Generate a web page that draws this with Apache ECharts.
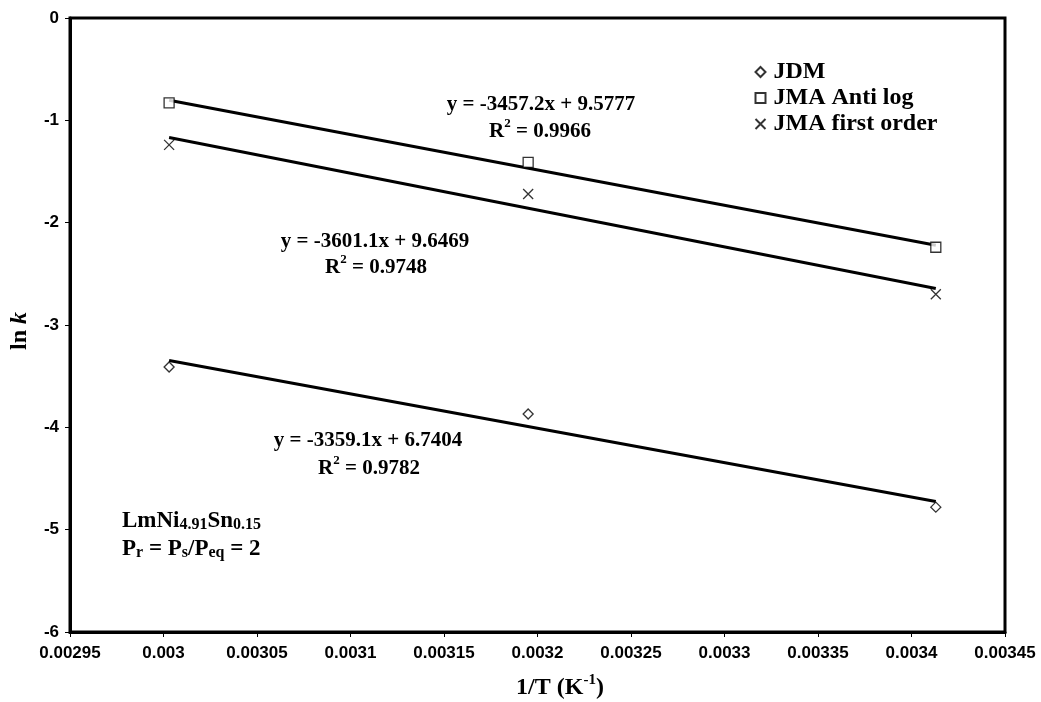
<!DOCTYPE html>
<html>
<head>
<meta charset="utf-8">
<script src="https://cdn.jsdelivr.net/npm/echarts@6/dist/echarts.min.js"></script>
<style>html,body{margin:0;padding:0;background:#fff}#c{width:1041px;height:702px}</style>
</head>
<body>
<div id="c"></div>
<script>
// 1/T values (K^-1) for T = 333, 313, 293 K
var invT = [0.003003, 0.003195, 0.003413];
var jdm = [-3.41, -3.87, -4.78];
var jmaAntiLog = [-0.83, -1.41, -2.24];
var jmaFirstOrder = [-1.24, -1.72, -2.70];
// trend line end values (at first and last 1/T)
var trendX = [0.003003, 0.003413];
var trendJdm = [-3.347, -4.724];
var trendAnti = [-0.804, -2.221];
var trendFirst = [-1.167, -2.644];
var xTicks = [0.00295, 0.003, 0.00305, 0.0031, 0.00315, 0.0032, 0.00325, 0.0033, 0.00335, 0.0034, 0.00345];
var yTicks = [-6, -5, -4, -3, -2, -1, 0];

function pts(xs, ys) { return xs.map(function (x, i) { return [x, ys[i]]; }); }

var crossPath = 'path://M0,0L10,10M10,0L0,10';
var serif = 'Liberation Serif';
var sans = 'Liberation Sans';
function rs(size, lh, va, extra) {
  var o = { fontFamily: serif, fontWeight: 'bold', fontSize: size, lineHeight: lh, verticalAlign: va, color: '#000' };
  for (var k in extra) o[k] = extra[k];
  return o;
}
var rich = {
  b: rs(21, 25, 'bottom'),
  sup: rs(13, 13, 'top'),
  y: rs(24, 26, 'bottom'),
  yi: rs(24, 26, 'bottom', { fontStyle: 'italic' }),
  t: rs(24, 27, 'bottom'),
  tsup: rs(15, 15, 'top'),
  c: rs(23, 30, 'bottom'),
  csub: rs(16, 16, 'bottom')
};
function label(x, y, text, align, rot) {
  return {
    type: 'text', x: x, y: y, rotation: rot || 0, z: 100,
    style: { text: text, rich: rich, align: align || 'center', verticalAlign: 'middle' }
  };
}

var hollow = { color: '#fff', borderColor: '#000', borderWidth: 1.3 };
var trendStyle = { color: '#000', width: 3 };

var chart = echarts.init(document.getElementById('c'));
chart.setOption({
  animation: false,
  backgroundColor: '#fff',
  grid: { left: 70, right: 36, top: 18, bottom: 70, show: true, borderColor: '#000', borderWidth: 3, backgroundColor: 'transparent' },
  xAxis: {
    type: 'value', min: xTicks[0], max: xTicks[xTicks.length - 1], interval: 0.00005,
    axisLine: { show: true, onZero: false, lineStyle: { color: '#000', width: 3 } },
    axisTick: { show: true, length: 5, lineStyle: { color: '#000', width: 1 } },
    splitLine: { show: false },
    axisLabel: {
      margin: 13, color: '#000', fontFamily: sans, fontWeight: 'bold', fontSize: 17,
      formatter: function (v) {
        var best = xTicks.reduce(function (a, b) { return Math.abs(b - v) < Math.abs(a - v) ? b : a; });
        return String(best);
      }
    }
  },
  yAxis: {
    type: 'value', min: yTicks[0], max: yTicks[yTicks.length - 1], interval: 1,
    axisLine: { show: true, onZero: false, lineStyle: { color: '#000', width: 3 } },
    axisTick: { show: true, length: 5, lineStyle: { color: '#000', width: 1 } },
    splitLine: { show: false },
    axisLabel: { margin: 11, color: '#000', fontFamily: sans, fontWeight: 'bold', fontSize: 17 }
  },
  legend: {
    orient: 'vertical', left: 748, top: 55, itemGap: 2, itemWidth: 10, itemHeight: 10,
    textStyle: { color: '#000', fontFamily: serif, fontWeight: 'bold', fontSize: 24, lineHeight: 24, padding: [0, 0, 0, 3] },
    data: [
      { name: 'JDM', icon: 'diamond' },
      { name: 'JMA Anti log', icon: 'rect' },
      { name: 'JMA first order', icon: crossPath }
    ]
  },
  series: [
    { name: 'JDM', type: 'scatter', symbol: 'diamond', symbolSize: 10, itemStyle: hollow, data: pts(invT, jdm), z: 5 },
    { name: 'JMA Anti log', type: 'scatter', symbol: 'rect', symbolSize: 10, itemStyle: hollow, data: pts(invT, jmaAntiLog), z: 5 },
    { name: 'JMA first order', type: 'scatter', symbol: crossPath, symbolSize: 10, itemStyle: { color: 'none', borderColor: '#000', borderWidth: 1.3 }, data: pts(invT, jmaFirstOrder), z: 5 },
    { name: 'trendJdm', type: 'line', showSymbol: false, symbol: 'none', lineStyle: trendStyle, data: pts(trendX, trendJdm), z: 3 },
    { name: 'trendAnti', type: 'line', showSymbol: false, symbol: 'none', lineStyle: trendStyle, data: pts(trendX, trendAnti), z: 3 },
    { name: 'trendFirst', type: 'line', showSymbol: false, symbol: 'none', lineStyle: trendStyle, data: pts(trendX, trendFirst), z: 3 }
  ],
  graphic: [
    label(541, 103, '{b|y = -3457.2x + 9.5777}'),
    label(540, 130, '{b|R}{sup|2}{b| = 0.9966}'),
    label(375, 240, '{b|y = -3601.1x + 9.6469}'),
    label(376, 266, '{b|R}{sup|2}{b| = 0.9748}'),
    label(368, 439, '{b|y = -3359.1x + 6.7404}'),
    label(369, 467, '{b|R}{sup|2}{b| = 0.9782}'),
    label(122, 518, '{c|LmNi}{csub|4.91}{c|Sn}{csub|0.15}', 'left'),
    label(122, 546, '{c|P}{csub|r}{c| = P}{csub|s}{c|/P}{csub|eq}{c| = 2}', 'left'),
    label(560, 686, '{t|1/T (K}{tsup|-1}{t|)}'),
    label(19, 331, '{y|ln }{yi|k}', 'center', Math.PI / 2)
  ]
});
</script>
</body>
</html>
